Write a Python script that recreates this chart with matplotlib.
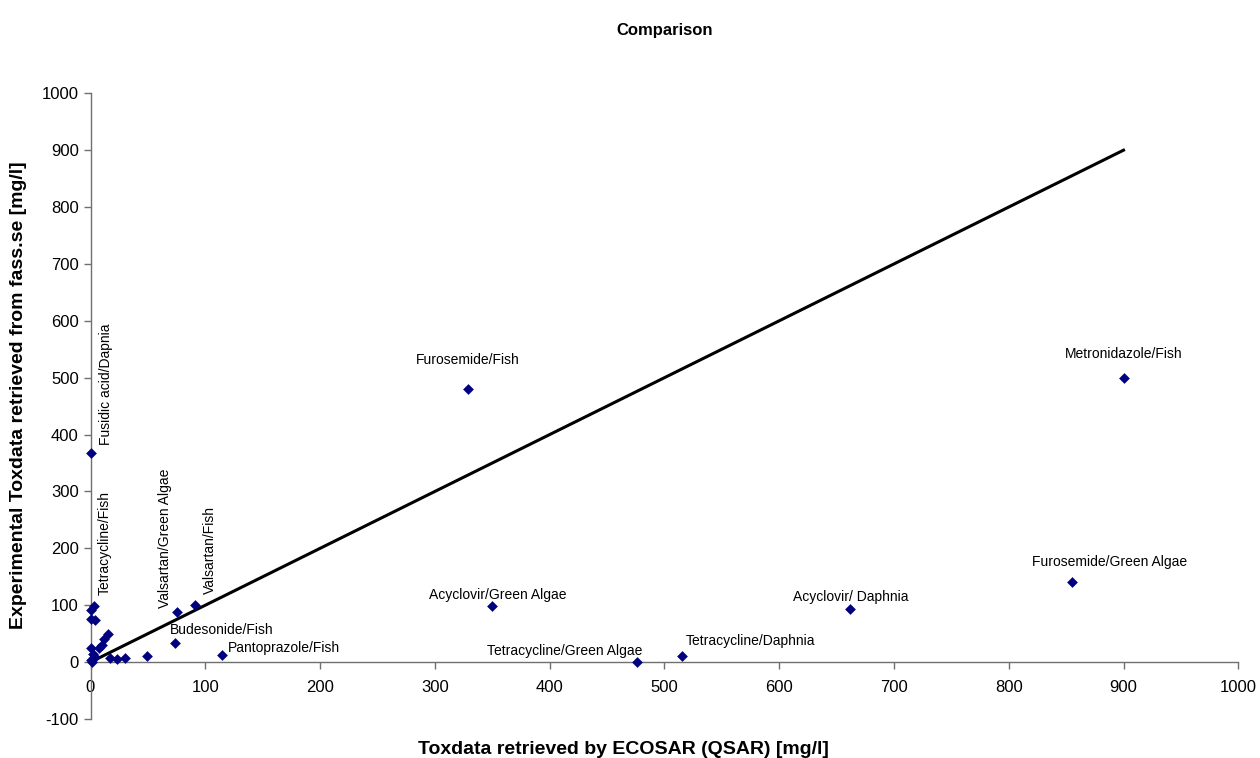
import matplotlib
matplotlib.use("Agg")
import matplotlib.pyplot as plt

plt.rcParams['font.family'] = ['Liberation Sans', 'DejaVu Sans']
plt.rcParams['axes.unicode_minus'] = False

# Labelled points
labels = ["Fusidic acid/Dapnia", "Tetracycline/Fish", "Valsartan/Green Algae", "Valsartan/Fish",
          "Budesonide/Fish", "Pantoprazole/Fish", "Furosemide/Fish", "Metronidazole/Fish",
          "Furosemide/Green Algae", "Acyclovir/Green Algae", "Tetracycline/Green Algae",
          "Tetracycline/Daphnia", "Acyclovir/ Daphnia"]
label_x = [0, 3, 75, 91, 74, 115, 328.6, 900, 855, 350, 476, 515, 662]
label_y = [367, 98, 88, 100, 34, 12, 480, 500, 141, 98, 0, 10, 93]

# Unlabelled points in the cluster near the origin
other_x = [0.2, 0.2, 4, 15.5, 12, 0, 7, 10, 2.5, 0, 4, 17, 23, 30, 49, 1]
other_y = [91, 75, 74, 50, 40, 24, 24, 30, 15, 3.5, 9, 6.5, 5, 6.5, 11, 0]

# Reference line y = x
line_x = [0, 900]
line_y = [0, 900]

W, H = 1260, 758
fig = plt.figure(figsize=(W / 100, H / 100), dpi=100)
ax = fig.add_axes([90.5 / W, (H - 719) / H, (1238.3 - 90.5) / W, (719 - 93.3) / H])

ax.plot(line_x, line_y, color='black', lw=2.2, zorder=2)
ax.scatter(other_x + label_x, other_y + label_y, marker='D', s=30, color='#000080',
           linewidths=0, zorder=3, clip_on=False)

ax.set_xlim(0, 1000)
ax.set_ylim(-100, 1000)
ax.set_xticks(range(0, 1001, 100))
ax.set_yticks(range(-100, 1001, 100))
ax.spines['top'].set_visible(False)
ax.spines['right'].set_visible(False)
ax.spines['bottom'].set_position(('data', 0))
for s in ('left', 'bottom'):
    ax.spines[s].set_color('#707070')
    ax.spines[s].set_linewidth(1.0)
ax.tick_params(axis='both', direction='out', length=5, width=1.0, color='#707070',
               labelsize=12, labelcolor='black')
ax.tick_params(axis='x', pad=8)

# label offsets in points (dx, dy), alignment, rotation
opts = {
    "Fusidic acid/Dapnia": (11, 6, 'center', 'bottom', 90),
    "Tetracycline/Fish": (8, 8, 'center', 'bottom', 90),
    "Valsartan/Green Algae": (-8, 3, 'center', 'bottom', 90),
    "Valsartan/Fish": (11, 8, 'center', 'bottom', 90),
    "Budesonide/Fish": (-4, 4, 'left', 'bottom', 0),
    "Pantoprazole/Fish": (4, 0, 'left', 'bottom', 0),
    "Furosemide/Fish": (0, 16, 'center', 'bottom', 0),
    "Metronidazole/Fish": (0, 12, 'center', 'bottom', 0),
    "Furosemide/Green Algae": (27, 9, 'center', 'bottom', 0),
    "Acyclovir/Green Algae": (4, 3, 'center', 'bottom', 0),
    "Tetracycline/Green Algae": (-52, 3, 'center', 'bottom', 0),
    "Tetracycline/Daphnia": (3, 6, 'left', 'bottom', 0),
    "Acyclovir/ Daphnia": (0, 4, 'center', 'bottom', 0),
}
for name, x, y in zip(labels, label_x, label_y):
    dx, dy, ha, va, rot = opts[name]
    ax.annotate(name, (x, y), xytext=(dx, dy), textcoords='offset points',
                ha=ha, va=va, rotation=rot, fontsize=10)

fig.text(665 / W, 1 - 30 / H, "Comparison", ha='center', va='center', fontsize=12, fontweight='bold')
fig.text(623 / W, 1 - 749 / H, "Toxdata retrieved by ECOSAR (QSAR) [mg/l]", ha='center', va='center',
         fontsize=14, fontweight='bold')
fig.text(19 / W, 1 - 395 / H, "Experimental Toxdata retrieved from fass.se [mg/l]", ha='center',
         va='center', rotation=90, fontsize=14, fontweight='bold')

fig.savefig("out.png", dpi=100)
